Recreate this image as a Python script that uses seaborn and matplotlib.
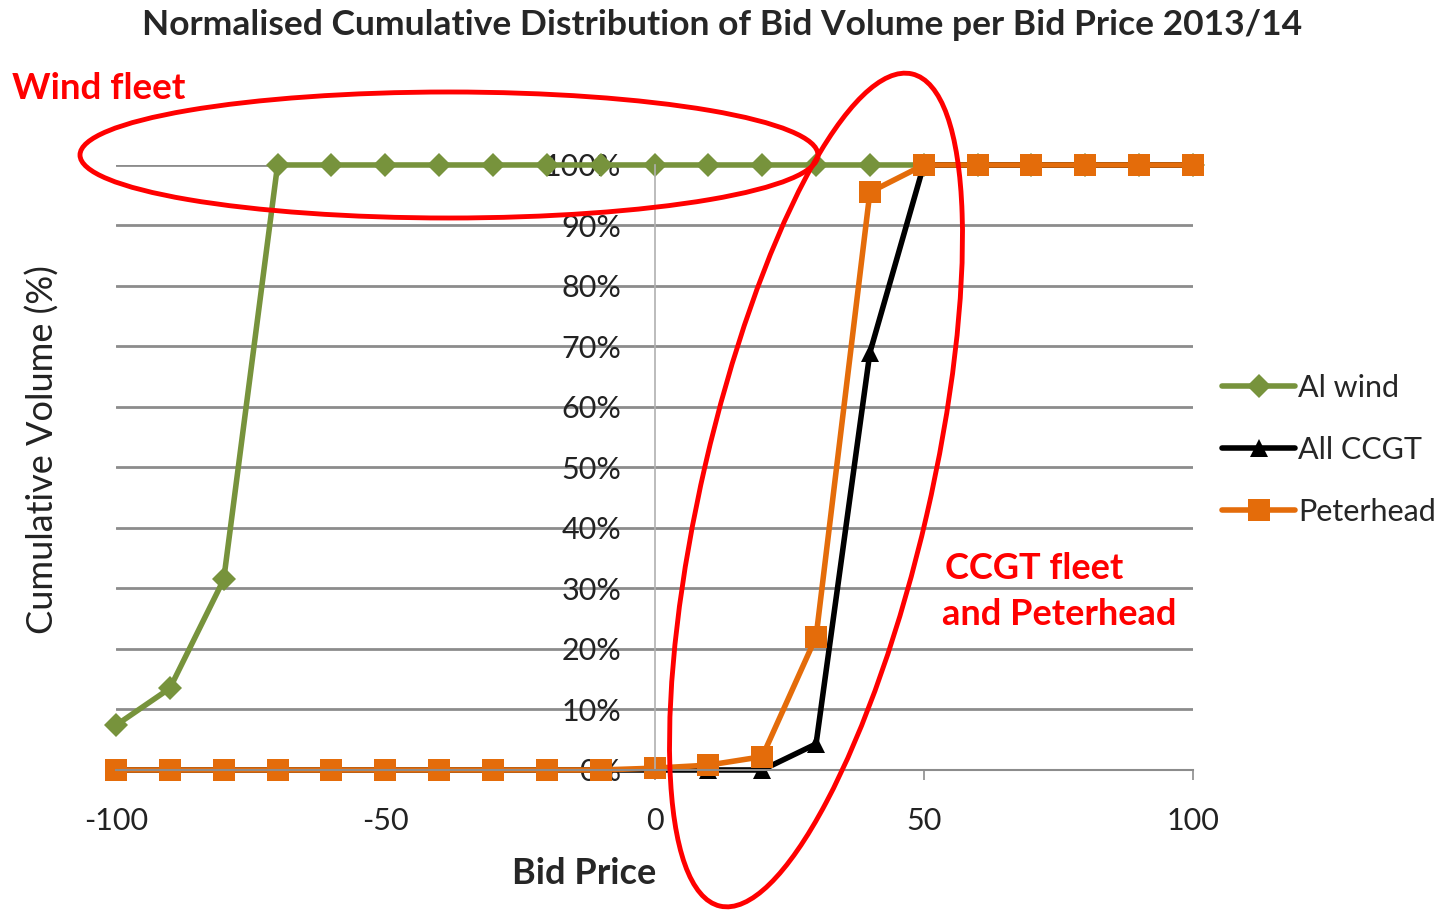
import matplotlib
matplotlib.use('Agg')
import matplotlib.pyplot as plt
from matplotlib.patches import Ellipse
from matplotlib.transforms import IdentityTransform
import numpy as np
import pandas as pd
import seaborn as sns

bid_price = [-100, -90, -80, -70, -60, -50, -40, -30, -20, -10, 0,
             10, 20, 30, 40, 50, 60, 70, 80, 90, 100]
wind = [7.4, 13.5, 31.5, 100, 100, 100, 100, 100, 100, 100, 100,
        100, 100, 100, 100, 100, 100, 100, 100, 100, 100]
ccgt = [0, 0, 0, 0, 0, 0, 0, 0, 0, 0, 0,
        0, 0, 4.3, 69, 100, 100, 100, 100, 100, 100]
peterhead = [0, 0, 0, 0, 0, 0, 0, 0, 0, 0, 0.3,
             0.8, 2.2, 22, 95.5, 100, 100, 100, 100, 100, 100]
series_names = ['Al wind', 'All CCGT', 'Peterhead']

df = pd.DataFrame({'Bid Price': bid_price, 'Al wind': wind,
                   'All CCGT': ccgt, 'Peterhead': peterhead})
long_df = df.melt(id_vars='Bid Price', var_name='series', value_name='Cumulative Volume')

colors = {'Al wind': '#77933C', 'All CCGT': '#000000', 'Peterhead': '#E46C0A'}
markers = {'Al wind': 'D', 'All CCGT': '^', 'Peterhead': 's'}
sizes = {'Al wind': 12, 'All CCGT': 13, 'Peterhead': 16}

sns.set_style('white')
plt.rcParams['font.family'] = ['Lato', 'DejaVu Sans']
plt.rcParams['axes.unicode_minus'] = False

fig = plt.figure(figsize=(14.54, 9.11), dpi=100)
ax = fig.add_axes([0.0798, 0.1548, 0.7407, 0.6641])

for name in series_names:
    sub = long_df[long_df['series'] == name]
    sns.lineplot(data=sub, x='Bid Price', y='Cumulative Volume', ax=ax,
                 color=colors[name], marker=markers[name], markersize=sizes[name],
                 markeredgewidth=0, linewidth=4, label=name, clip_on=False)

ax.set_xlim(-100, 100)
ax.set_ylim(0, 100)
ax.set_xticks([-100, -50, 0, 50, 100])
ax.set_yticks(np.arange(0, 101, 10))
ax.set_yticklabels([f'{v}%' for v in range(0, 101, 10)])
ax.yaxis.grid(True, color='#8c8c8c', linewidth=2)
ax.xaxis.grid(False)

for s in ['top', 'right']:
    ax.spines[s].set_visible(False)
ax.spines['left'].set_position(('data', 0))
ax.spines['left'].set_color('#b0b0b0')
ax.spines['left'].set_linewidth(1.2)
ax.spines['bottom'].set_color('#8c8c8c')
ax.spines['bottom'].set_linewidth(1.5)

ax.tick_params(axis='y', length=0, pad=24, labelsize=22, labelcolor='#222222')
ax.tick_params(axis='x', direction='out', length=7, width=1.2, color='#8c8c8c',
               bottom=True, pad=20, labelsize=22, labelcolor='#222222')
ax.set_xlabel('')
ax.set_ylabel('')

ax.legend(loc='center left', bbox_to_anchor=(1.027, 0.529), frameon=False,
          fontsize=22, handlelength=2.4, handletextpad=0.1, labelspacing=1.12,
          borderaxespad=0, borderpad=0)

fig.text(0.4966, 0.9726, 'Normalised Cumulative Distribution of Bid Volume per Bid Price 2013/14',
         ha='center', va='center', fontsize=25.5, fontweight='bold')
fig.text(0.029, 0.506, 'Cumulative Volume (%)', rotation=90, ha='center', va='center',
         fontsize=26, color='#222222')
fig.text(0.402, 0.0417, 'Bid Price', ha='center', va='center', fontsize=26,
         fontweight='bold')

# red annotations
fig.text(0.008, 0.903, 'Wind fleet', ha='left', va='center', fontsize=26.5,
         fontweight='bold', color='#FF0000')
fig.text(0.650, 0.376, 'CCGT fleet', ha='left', va='center', fontsize=26,
         fontweight='bold', color='#FF0000')
fig.text(0.648, 0.325, 'and Peterhead', ha='left', va='center', fontsize=26,
         fontweight='bold', color='#FF0000')

H = 911
fig.patches.append(Ellipse((449, H - 155), 738, 126, angle=0, fill=False,
                           edgecolor='#FF0000', linewidth=3.5,
                           transform=IdentityTransform(), figure=fig))
fig.patches.append(Ellipse((816, H - 490), 227, 854, angle=-13, fill=False,
                           edgecolor='#FF0000', linewidth=3.5,
                           transform=IdentityTransform(), figure=fig))

fig.savefig('out.png', dpi=100)
